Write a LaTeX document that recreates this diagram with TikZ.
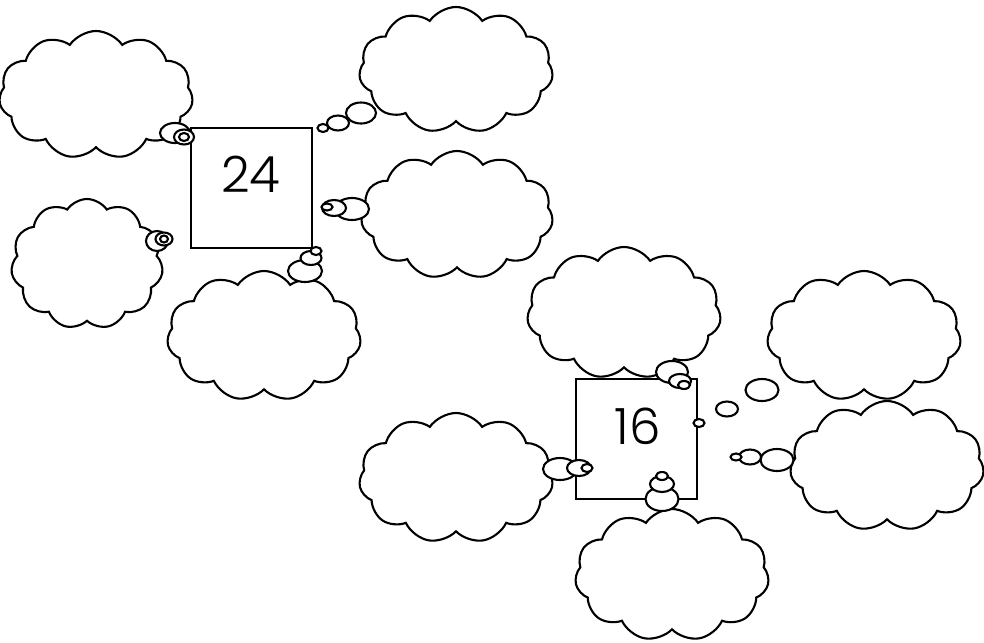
\documentclass[tikz,border=0pt]{standalone}
\usepackage{fontspec}
\setmainfont{Poppins}[UprightFont=* Light]
\usetikzlibrary{shapes.symbols,shapes.geometric}
\begin{document}
\begin{tikzpicture}[x=1pt,y=-1pt,line width=2.1pt,
  thought/.style 2 args={cloud, cloud puffs=11, cloud puff arc=112, cloud ignores aspect, draw, fill=white, inner sep=0pt, minimum width=#1, minimum height=#2},
  bub/.style 2 args={ellipse, draw, fill=white, inner sep=0pt, minimum width=#1, minimum height=#2},
  numbox/.style={draw, fill=white, line width=2pt, minimum width=121pt, minimum height=120pt, inner sep=0pt},
  numtext/.style={font=\fontsize{50}{56}\selectfont}]
\useasboundingbox (0,0) rectangle (984,642);
% squares
\node[numbox] (sqA) at (251.5,188) {};
\node[numtext] (numA) at (251,174) {24};
\node[numbox] (sqB) at (636,439) {};
\node[numtext] (numB) at (638,426) {16};
% group 24
\node[thought={194pt}{128pt}] (c1) at (96,95) {};
\node[bub={30pt}{20pt}] (c1a) at (175,133) {};
\node[bub={20pt}{15pt}] (c1b) at (184,137) {};
\node[bub={10pt}{8pt}] (c1c) at (184,137) {};

\node[thought={194pt}{126pt}] (c2) at (456,70) {};
\node[bub={30pt}{21pt}] (c2a) at (361,113) {};
\node[bub={22pt}{15pt}] (c2b) at (338,123) {};
\node[bub={11pt}{8pt}] (c2c) at (323,128) {};

\node[thought={192pt}{128pt}] (c3) at (457,215) {};
\node[bub={34pt}{22pt}] (c3a) at (352,209) {};
\node[bub={24pt}{16pt}] (c3b) at (334,208) {};
\node[bub={11pt}{7pt}] (c3c) at (327,207) {};

\node[thought={152pt}{130pt}] (c4) at (87,264) {};
\node[bub={22pt}{20pt}] (c4a) at (157,241) {};
\node[bub={17pt}{13pt}] (c4b) at (164,239) {};
\node[bub={8pt}{7pt}] (c4c) at (164,239) {};

\node[thought={194pt}{130pt}] (c5) at (264,336) {};
\node[bub={34pt}{22pt}] (c5a) at (305,271) {};
\node[bub={21pt}{14pt}] (c5b) at (311,258) {};
\node[bub={11pt}{8pt}] (c5c) at (316,251) {};
% group 16
\node[thought={194pt}{132pt}] (d1) at (624,313) {};
\node[bub={32pt}{22pt}] (d1a) at (672,372) {};
\node[bub={22pt}{14pt}] (d1b) at (680,381) {};
\node[bub={12pt}{8pt}] (d1c) at (684,385) {};

\node[thought={194pt}{130pt}] (d2) at (864,336) {};
\node[bub={33pt}{22pt}] (d2a) at (762,390) {};
\node[bub={22pt}{15pt}] (d2b) at (727,409) {};
\node[bub={11pt}{8pt}] (d2c) at (699,423) {};

\node[thought={194pt}{130pt}] (d3) at (887,466) {};
\node[bub={33pt}{22pt}] (d3a) at (777,460) {};
\node[bub={22pt}{15pt}] (d3b) at (750,457) {};
\node[bub={11pt}{7pt}] (d3c) at (736,457) {};

\node[thought={194pt}{130pt}] (d4) at (456,478) {};
\node[bub={34pt}{22pt}] (d4a) at (560,469) {};
\node[bub={24pt}{16pt}] (d4b) at (579,468) {};
\node[bub={11pt}{8pt}] (d4c) at (587,468) {};

\node[thought={194pt}{132pt}] (d5) at (672,575) {};
\node[bub={33pt}{24pt}] (d5a) at (662,499) {};
\node[bub={24pt}{16pt}] (d5b) at (662,484) {};
\node[bub={12pt}{8pt}] (d5c) at (662,476) {};
\end{tikzpicture}
\end{document}
